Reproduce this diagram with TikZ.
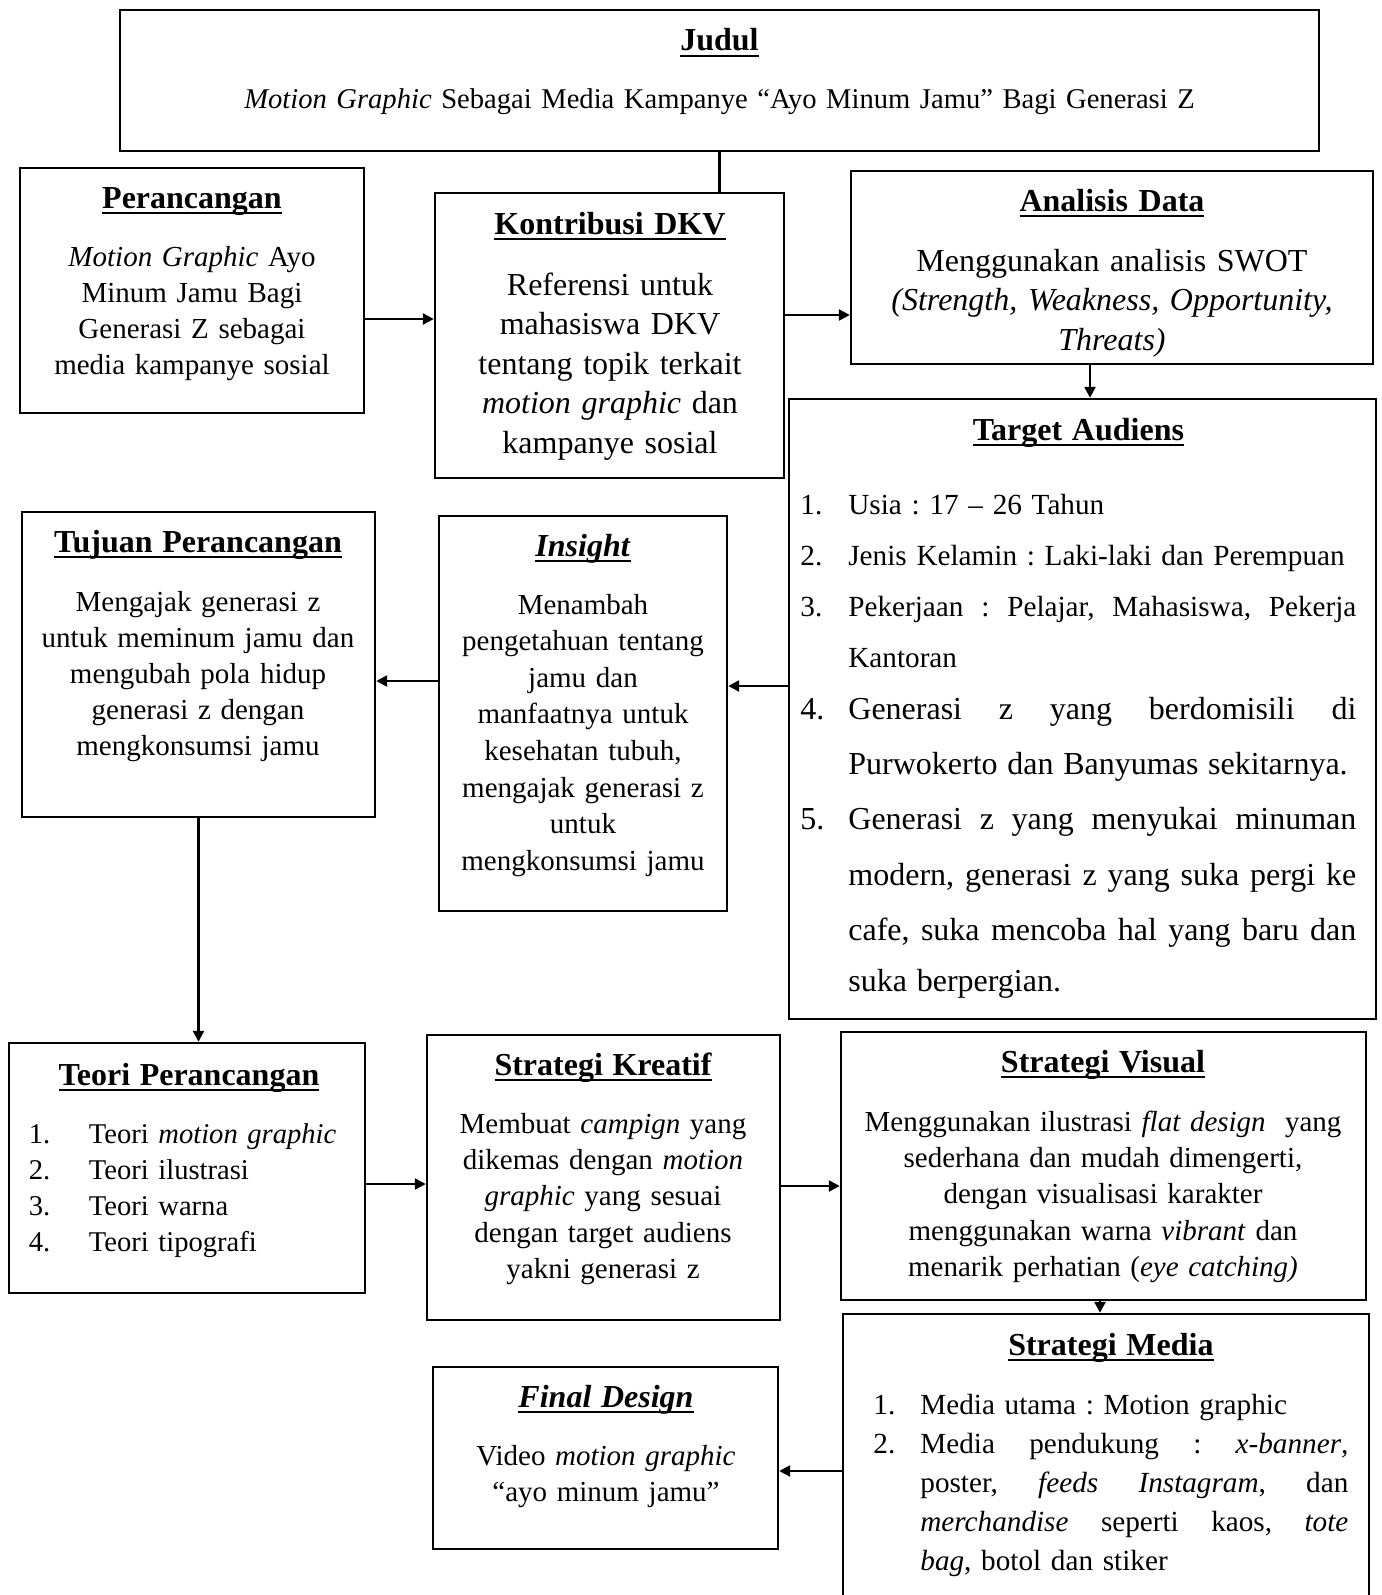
\documentclass[tikz,border=0pt]{standalone}
\usepackage{fontspec}
\setmainfont{Liberation Serif}
\frenchspacing
\usetikzlibrary{arrows.meta,calc}

% underlined bold heading, rule crossing the descenders
\newcommand{\heading}[1]{\setbox0=\hbox{\fontsize{16}{18}\selectfont\bfseries #1}\rlap{\rule[-3.2pt]{\wd0}{1.3pt}}\box0}
% one justified line of a list item
\newcommand{\justline}[2]{\leavevmode\hbox to #1{\spaceskip=0.25em plus 1fil\relax\xspaceskip=\spaceskip #2}}

\begin{document}
\begin{tikzpicture}[
    x=0.5pt, y=-0.5pt,
    box/.style={rectangle, draw, line width=1.2pt, inner sep=0pt},
    txt/.style={inner sep=0pt, anchor=base, align=center},
    lst/.style={inner sep=0pt, anchor=base west, align=left},
    arrow/.style={-{Triangle[length=5.5pt, width=5.5pt]}, line width=1.2pt},
    link/.style={line width=1.2pt},
]
\path[use as bounding box] (0,0) rectangle (1381,1595);
\clip (0,0) rectangle (1381,1595);

% ====== Frames ======
\node[box, minimum width=599.5pt, minimum height=70.5pt] (judul) at (719.5,80.5) {};
\node[box, minimum width=172pt, minimum height=122.5pt] (perancangan) at (192,290.5) {};
\node[box, minimum width=174.5pt, minimum height=142.5pt] (kontribusi) at (609.5,335.5) {};
\node[box, minimum width=261pt, minimum height=96.5pt] (analisis) at (1112,267.5) {};
\node[box, minimum width=293.5pt, minimum height=310pt] (target) at (1082.5,709) {};
\node[box, minimum width=176.5pt, minimum height=152.5pt] (tujuan) at (198.5,664.5) {};
\node[box, minimum width=144pt, minimum height=197.5pt] (insight) at (583,713.5) {};
\node[box, minimum width=178pt, minimum height=125pt] (teori) at (187,1168) {};
\node[box, minimum width=176.5pt, minimum height=142.5pt] (kreatif) at (603.5,1177.5) {};
\node[box, minimum width=262.5pt, minimum height=134pt] (visual) at (1103.5,1166) {};
\node[box, minimum width=263pt, minimum height=153pt] (media) at (1106,1467) {};
\node[box, minimum width=172.5pt, minimum height=91pt] (final) at (605.5,1458) {};

% ====== Texts ======
\node[txt, text width=560pt, font=\fontsize{14.3}{18}\selectfont] (judulText) at (719.5,51)
{\heading{Judul}\\[11pt]
\textit{Motion Graphic} Sebagai Media Kampanye “Ayo Minum Jamu” Bagi Generasi Z};

\node[txt, text width=168pt, font=\fontsize{14.5}{18}\selectfont] (perancanganText) at (192,208)
{\heading{Perancangan}\\[11pt]
\textit{Motion Graphic} Ayo\\Minum Jamu Bagi\\Generasi Z sebagai\\media kampanye sosial};

\node[txt, text width=170pt, font=\fontsize{16}{19.8}\selectfont] (kontribusiText) at (610,234)
{\heading{Kontribusi DKV}\\[10.7pt]
Referensi untuk\\mahasiswa DKV\\tentang topik terkait\\\textit{motion graphic} dan\\kampanye sosial};

\node[txt, text width=255pt, font=\fontsize{16}{19.8}\selectfont] (analisisText) at (1112,211)
{\heading{Analisis Data}\\[10.2pt]
Menggunakan analisis SWOT\\\textit{(Strength, Weakness, Opportunity,}\\\textit{Threats)}};

\node[lst, text width=278pt, font=\fontsize{14.6}{25.5}\selectfont] (targetText) at (800,440)
{\makebox[\linewidth]{\heading{Target Audiens}}\\[11.5pt]
\makebox[24pt][l]{1.}Usia : 17 – 26 Tahun\\
\makebox[24pt][l]{2.}Jenis Kelamin : Laki-laki dan Perempuan\\
\makebox[24pt][l]{3.}\justline{254pt}{Pekerjaan : Pelajar, Mahasiswa, Pekerja}\\
\hspace*{24pt}Kantoran\\[-1.7pt]
\fontsize{16}{27.7}\selectfont
\makebox[24pt][l]{4.}\justline{254pt}{Generasi z yang berdomisili di}\\
\hspace*{24pt}Purwokerto dan Banyumas sekitarnya.\\
\makebox[24pt][l]{5.}\justline{254pt}{Generasi z yang menyukai minuman}\\
\hspace*{24pt}\justline{254pt}{modern, generasi z yang suka pergi ke}\\
\hspace*{24pt}\justline{254pt}{cafe, suka mencoba hal yang baru dan}\\
\hspace*{24pt}suka berpergian.};

\node[txt, text width=172pt, font=\fontsize{14.5}{18}\selectfont] (tujuanText) at (198,552)
{\heading{Tujuan Perancangan}\\[11.5pt]
Mengajak generasi z\\untuk meminum jamu dan\\mengubah pola hidup\\generasi z dengan\\mengkonsumsi jamu};

\node[txt, text width=140pt, font=\fontsize{14.5}{18.3}\selectfont] (insightText) at (583,556)
{\heading{\textit{Insight}}\\[10.7pt]
Menambah\\pengetahuan tentang\\jamu dan\\manfaatnya untuk\\kesehatan tubuh,\\mengajak generasi z\\untuk\\mengkonsumsi jamu};

\node[lst, text width=160pt, font=\fontsize{14.3}{18}\selectfont] (teoriText) at (28.5,1085)
{\makebox[\linewidth]{\heading{Teori Perancangan}}\\[11pt]
\makebox[30pt][l]{1.}Teori \textit{motion graphic}\\
\makebox[30pt][l]{2.}Teori ilustrasi\\
\makebox[30pt][l]{3.}Teori warna\\
\makebox[30pt][l]{4.}Teori tipografi};

\node[txt, text width=172pt, font=\fontsize{14.5}{18.2}\selectfont] (kreatifText) at (603,1075)
{\heading{Strategi Kreatif}\\[10.8pt]
Membuat \textit{campign} yang\\dikemas dengan \textit{motion}\\\textit{graphic} yang sesuai\\dengan target audiens\\yakni generasi z};

\node[txt, text width=255pt, font=\fontsize{14.5}{18.2}\selectfont] (visualText) at (1103,1072)
{\heading{Strategi Visual}\\[11.3pt]
Menggunakan ilustrasi \textit{flat design}\ \ yang\\sederhana dan mudah dimengerti,\\dengan visualisasi karakter\\menggunakan warna \textit{vibrant} dan\\menarik perhatian (\textit{eye catching)}};

\node[lst, text width=237.5pt, font=\fontsize{14.6}{19.6}\selectfont] (mediaText) at (873,1355)
{\makebox[\linewidth]{\heading{Strategi Media}}\\[9.9pt]
\makebox[23.5pt][l]{1.}Media utama : Motion graphic\\
\makebox[23.5pt][l]{2.}\justline{214pt}{Media pendukung : \textit{x-banner},}\\
\hspace*{23.5pt}\justline{214pt}{poster, \textit{feeds Instagram}, dan}\\
\hspace*{23.5pt}\justline{214pt}{\textit{merchandise} seperti kaos, \textit{tote}}\\
\hspace*{23.5pt}\textit{bag}, botol dan stiker};

\node[txt, text width=168pt, font=\fontsize{14.5}{18.3}\selectfont] (finalText) at (606,1407)
{\heading{\textit{Final Design}}\\[10.7pt]
Video \textit{motion graphic}\\“ayo minum jamu”};

% ====== Connectors ======
\draw[link] (judul.south) -- (judul.south |- kontribusi.north);
\draw[arrow] ([yshift=-14.25pt]perancangan.east) -- ([yshift=-14.25pt]perancangan.east -| kontribusi.west);
\draw[arrow] ([yshift=10.25pt]kontribusi.east) -- ([yshift=10.25pt]kontribusi.east -| analisis.west);
\draw[arrow] ([xshift=-11pt]analisis.south) -- ([xshift=-11pt]analisis.south |- target.north);
\draw[arrow] ([yshift=11.5pt]target.west) -- ([yshift=11.5pt]target.west -| insight.east);
\draw[arrow] ([yshift=16.25pt]insight.west) -- ([yshift=16.25pt]insight.west -| tujuan.east);
\draw[arrow] (tujuan.south) -- (tujuan.south |- teori.north);
\draw[arrow] ([yshift=-8pt]teori.east) -- ([yshift=-8pt]teori.east -| kreatif.west);
\draw[arrow] ([yshift=-4.25pt]kreatif.east) -- ([yshift=-4.25pt]kreatif.east -| visual.west);
\draw[arrow] ([xshift=-1.75pt]visual.south) -- ([xshift=-1.75pt]visual.south |- media.north);
\draw[arrow] ([yshift=-6.5pt]final.east -| media.west) -- ([yshift=-6.5pt]final.east);

\end{tikzpicture}
\end{document}
